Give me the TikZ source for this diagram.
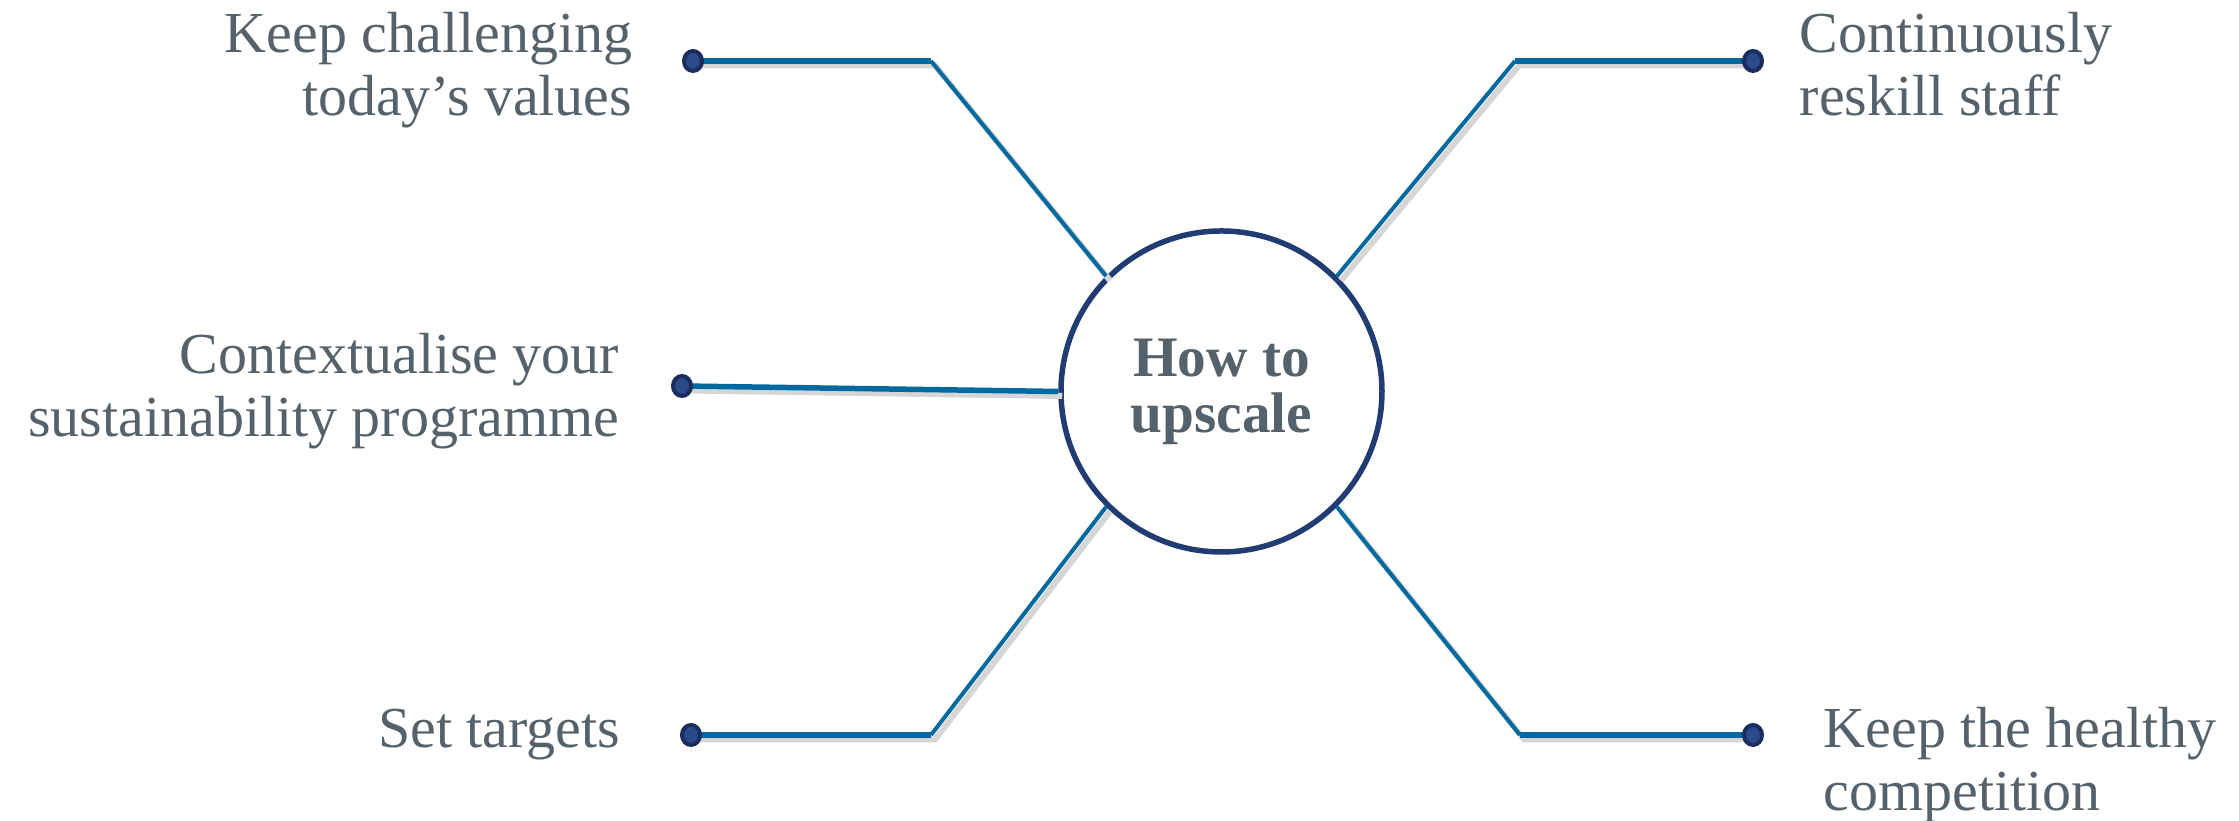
\documentclass[tikz,border=0pt]{standalone}
\usepackage{fontspec}
\setmainfont{Liberation Serif}
\usetikzlibrary{shapes.geometric}
\definecolor{spokeblue}{HTML}{006AA0}
\definecolor{hubnavy}{HTML}{213B73}
\definecolor{dotnavy}{HTML}{1B2D5E}
\definecolor{dotfill}{HTML}{2A4A8A}
\definecolor{labelgrey}{HTML}{56626B}
\definecolor{shadowgrey}{HTML}{D6D6D6}
\tikzset{
  hub/.style={circle, draw=hubnavy, fill=white, line width=0.55mm, minimum size=3.21cm,
    inner sep=0pt, align=center, text=labelgrey,
    font=\bfseries\fontsize{16.3}{16}\selectfont},
  tip/.style={ellipse, draw=dotnavy, fill=dotfill, line width=0.4mm,
    minimum width=1.8mm, minimum height=2.0mm, inner sep=0pt},
  lbl/.style={text=labelgrey, inner sep=0pt, font=\fontsize{16.5}{17.9}\selectfont},
  arm/.style={draw=spokeblue, line width=0.55mm},
  leg/.style={draw=spokeblue, line width=0.4mm},
  shade/.style={draw=shadowgrey, line width=0.6mm,
    transform canvas={xshift=0.4mm, yshift=-0.45mm}}
}
\begin{document}
\begin{tikzpicture}
  \useasboundingbox (0,0) rectangle (22.39,8.21);
  \node[hub] (c) at (12.215,4.295) {How to\\upscale};
  \draw
    (6.93,7.60) coordinate (p1)
    (17.53,7.60) coordinate (p2)
    (6.82,4.35) coordinate (p3)
    (6.91,0.86) coordinate (p4)
    (17.53,0.86) coordinate (p5)
    (9.31,7.60) coordinate (k1)
    (15.15,7.60) coordinate (k2)
    (9.31,0.86) coordinate (k4)
    (15.20,0.86) coordinate (k5);
  \begin{scope}
    \draw[shade] (p1) -- (k1) -- (c.135);
    \draw[shade] (p2) -- (k2) -- (c.45);
    \draw[shade] (p3) -- (c.west);
    \draw[shade] (p4) -- (k4) -- (c.-135);
    \draw[shade] (p5) -- (k5) -- (c.-45);
  \end{scope}
  \begin{scope}
    \draw[arm] (p1) -- (k1);
    \draw[leg] (k1) -- (c.135);
    \draw[arm] (p2) -- (k2);
    \draw[leg] (k2) -- (c.45);
    \draw[arm] (p3) -- (c.west);
    \draw[arm] (p4) -- (k4);
    \draw[leg] (k4) -- (c.-135);
    \draw[arm] (p5) -- (k5);
    \draw[leg] (k5) -- (c.-45);
  \end{scope}
  \node[tip] (0) at (p1) {};
  \node[tip] (1) at (p2) {};
  \node[tip] (2) at (p3) {};
  \node[tip] (3) at (p4) {};
  \node[tip] (4) at (p5) {};
  \node[lbl, align=right, anchor=east] (t0) at (6.33,7.51) {Keep challenging\\today’s values};
  \node[lbl, align=left, anchor=west] (t1) at (17.99,7.57) {Continuously\\reskill staff};
  \node[lbl, align=right, anchor=east] (t2) at (6.20,4.30) {Contextualise your\\sustainability programme};
  \node[lbl, anchor=east] (t3) at (6.21,0.86) {Set targets};
  \node[lbl, align=left, anchor=west] (t4) at (18.23,0.56) {Keep the healthy\\competition};
\end{tikzpicture}
\end{document}
